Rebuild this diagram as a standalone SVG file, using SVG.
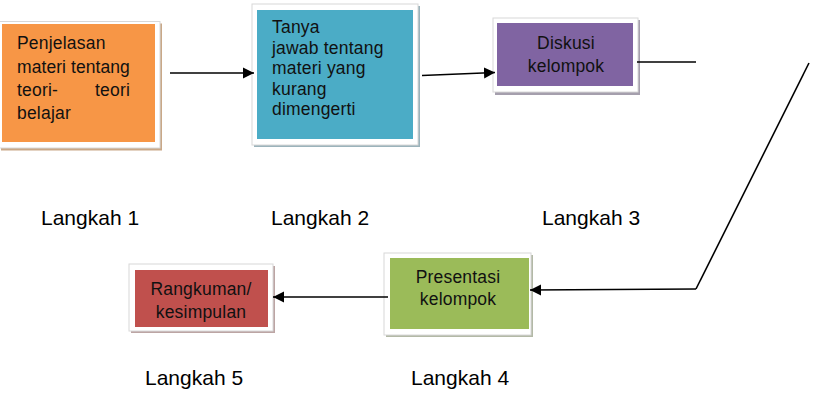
<svg xmlns="http://www.w3.org/2000/svg" width="816" height="400" viewBox="0 0 816 400">
<defs>
<marker id="ah" markerUnits="userSpaceOnUse" markerWidth="12" markerHeight="12" viewBox="0 0 12 12" refX="11" refY="6" orient="auto">
<path d="M0,0.5 L11,6 L0,11.5 Z" fill="#000"/>
</marker>
</defs>
<style>
.frame{fill:#fff;stroke:#d8d8d8;stroke-width:1}
.bt{font-family:"Liberation Sans",Arial,sans-serif;font-size:17.5px;letter-spacing:0.2px;fill:#111}
.c{text-anchor:middle}
.lbl{font-family:"Liberation Sans",Arial,sans-serif;font-size:21px;fill:#000}
.con{stroke:#000;stroke-width:1.6;fill:none}
</style>
<rect width="816" height="400" fill="#fff"/>

<g id="node1">
<rect x="1" y="23.5" width="161" height="127" fill="#c9a888"/>
<rect class="frame" x="-1" y="21.5" width="161" height="126.5"/>
<rect x="2" y="24" width="153" height="118" fill="#f79646"/>
<text class="bt" x="17" y="48.5">Penjelasan</text>
<text class="bt" x="17" y="72.5" textLength="113" lengthAdjust="spacing">materi tentang</text>
<text class="bt" x="17" y="96">teori-</text>
<text class="bt" x="130" y="96" text-anchor="end">teori</text>
<text class="bt" x="17" y="118.5">belajar</text>
</g>

<g id="node2">
<rect x="254" y="6" width="166" height="141" fill="#9bb3bb"/>
<rect class="frame" x="252" y="4" width="166" height="141"/>
<rect x="257" y="10" width="156" height="129" fill="#4bacc6"/>
<text class="bt" x="272" y="33">Tanya</text>
<text class="bt" x="272" y="53.5">jawab tentang</text>
<text class="bt" x="272" y="74">materi yang</text>
<text class="bt" x="272" y="94.5">kurang</text>
<text class="bt" x="272" y="115">dimengerti</text>
</g>

<g id="node3">
<rect x="495" y="20" width="145" height="75" fill="#a59fad"/>
<rect class="frame" x="493" y="18" width="145" height="74"/>
<rect x="497" y="23" width="136" height="63" fill="#8064a2"/>
<text class="bt c" x="566" y="48.5">Diskusi</text>
<text class="bt c" x="566" y="72">kelompok</text>
</g>

<g id="node4">
<rect x="386" y="255" width="147" height="82" fill="#b3b9a6"/>
<rect class="frame" x="384" y="253" width="147" height="82"/>
<rect x="390" y="258" width="139" height="71" fill="#9bbb59"/>
<text class="bt c" x="458" y="282.5">Presentasi</text>
<text class="bt c" x="458" y="305">kelompok</text>
</g>

<g id="node5">
<rect x="131" y="266" width="144" height="67" fill="#bca5a4"/>
<rect class="frame" x="129" y="264" width="144" height="67"/>
<rect x="135" y="270" width="133" height="57" fill="#c0504d"/>
<text class="bt c" x="201" y="295">Rangkuman/</text>
<text class="bt c" x="201" y="317.5">kesimpulan</text>
</g>

<g id="connectors">
<line class="con" x1="170" y1="73" x2="254" y2="73" marker-end="url(#ah)"/>
<line class="con" x1="422" y1="75.5" x2="495" y2="72.5" marker-end="url(#ah)"/>
<line class="con" x1="637" y1="62" x2="696" y2="62" stroke-width="1.3"/>
<polyline class="con" points="809,63 696,289" stroke-width="1.3"/>
<line class="con" x1="696" y1="289" x2="530" y2="290" marker-end="url(#ah)"/>
<line class="con" x1="388" y1="297" x2="273" y2="297" marker-end="url(#ah)"/>
</g>

<g id="labels">
<text class="lbl" x="41" y="225">Langkah 1</text>
<text class="lbl" x="271" y="225">Langkah 2</text>
<text class="lbl" x="542" y="225">Langkah 3</text>
<text class="lbl" x="145" y="385">Langkah 5</text>
<text class="lbl" x="411" y="385">Langkah 4</text>
</g>
</svg>
